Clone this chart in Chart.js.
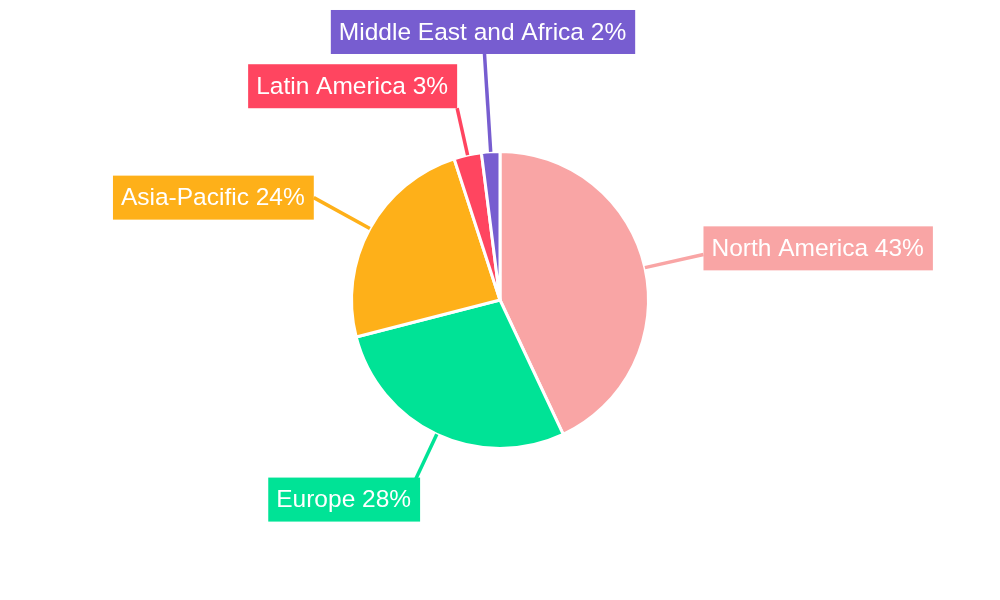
<!DOCTYPE html>
<html>
<head>
<meta charset="utf-8">
<script src="https://cdn.jsdelivr.net/npm/chart.js@4/dist/chart.umd.min.js"></script>
<style>
html,body{margin:0;padding:0;background:#fff;}
#wrap{width:1000px;height:600px;}
</style>
</head>
<body>
<div id="wrap"><canvas id="c" width="1000" height="600"></canvas></div>
<script>
const regions = ["North America", "Europe", "Asia-Pacific", "Latin America", "Middle East and Africa"];
const shares = [43, 28, 24, 3, 2];
const colors = ["#F9A5A5", "#00E396", "#FEB019", "#FF4560", "#775DD0"];

// label placement: leader extension beyond the rim, and box anchor fractions
const labelLayout = [
  {ext: 60, ax: 0, ay: 0.64},
  {ext: 57, ax: 0.95, ay: 0.19},
  {ext: 64, ax: 1, ay: 0.5},
  {ext: 48, ax: 1, ay: 1},
  {ext: 98, ax: 0.505, ay: 1}
];

const outsideLabels = {
  id: 'outsideLabels',
  afterDatasetsDraw(chart) {
    const ctx = chart.ctx;
    const meta = chart.getDatasetMeta(0);
    ctx.save();
    ctx.font = '24.5px "Liberation Sans", Arial, sans-serif';
    meta.data.forEach((arc, i) => {
      const p = arc.getProps(['x','y','startAngle','endAngle','outerRadius'], true);
      const mid = (p.startAngle + p.endAngle) / 2;
      const cos = Math.cos(mid), sin = Math.sin(mid);
      const sx = p.x + p.outerRadius * cos, sy = p.y + p.outerRadius * sin;
      const L = labelLayout[i];
      const ex = p.x + (p.outerRadius + L.ext) * cos, ey = p.y + (p.outerRadius + L.ext) * sin;
      ctx.strokeStyle = colors[i];
      ctx.lineWidth = 3.5;
      ctx.beginPath();
      ctx.moveTo(sx, sy);
      ctx.lineTo(ex, ey);
      ctx.stroke();
      const text = regions[i] + ' ' + shares[i] + '%';
      const w = ctx.measureText(text).width + 17;
      const h = 44;
      const bx = ex - L.ax * w, by = ey - L.ay * h;
      ctx.fillStyle = colors[i];
      ctx.fillRect(bx, by, w, h);
      ctx.fillStyle = '#ffffff';
      ctx.textBaseline = 'middle';
      ctx.textAlign = 'left';
      ctx.fillText(text, bx + 8, by + h / 2 + 1);
    });
    ctx.restore();
  }
};

new Chart(document.getElementById('c'), {
  type: 'pie',
  data: {
    labels: regions,
    datasets: [{
      data: shares,
      backgroundColor: colors,
      borderColor: '#ffffff',
      borderWidth: 3
    }]
  },
  options: {
    responsive: false,
    animation: false,
    layout: {padding: {top: 150, bottom: 150, left: 0, right: 0}},
    plugins: {
      legend: {display: false},
      tooltip: {enabled: false}
    }
  },
  plugins: [outsideLabels]
});
</script>
</body>
</html>
